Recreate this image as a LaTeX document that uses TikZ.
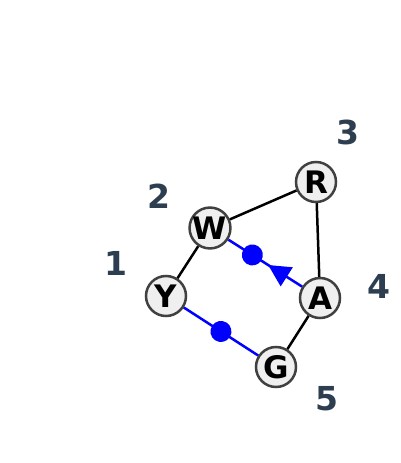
\documentclass[tikz,border=0pt]{standalone}
\usepackage{fontspec}
\setmainfont{DejaVu Sans}
\usetikzlibrary{arrows.meta,decorations.markings}
\definecolor{labelslate}{HTML}{2C3E50}
\definecolor{vertexfill}{HTML}{EFEFEF}
\definecolor{vertexline}{HTML}{404040}
\tikzset{
  vertex/.style={circle, draw=vertexline, fill=vertexfill, line width=2.5pt, minimum size=40pt, inner sep=0pt,
    font=\fontsize{31}{31}\selectfont\bfseries},
  number/.style={text=labelslate, inner sep=0pt, font=\fontsize{33}{33}\selectfont\bfseries},
  edge/.style={line width=2.5pt},
  blueedge/.style={edge, blue}
}

\begin{document}
\begin{tikzpicture}[x = 1pt, y = -1pt]
    \useasboundingbox (0,0) rectangle (400,463);
    \node[vertex] (W) at (210,228) {W};
    \node[vertex] (R) at (316,182) {R};
    \node[vertex] (Y) at (166,296) {Y};
    \node[vertex] (A) at (320,298) {A};
    \node[vertex] (G) at (276,367) {G};
    \node[number] (N1) at (116,263) {1};
    \node[number] (N2) at (159,196) {2};
    \node[number] (N3) at (348,132) {3};
    \node[number] (N4) at (379,286) {4};
    \node[number] (N5) at (327,399) {5};
    \draw[edge] (W) -- (R) (W) -- (Y) (R) -- (A) (A) -- (G);
    \draw[blueedge, postaction = decorate, decoration = {markings,
        mark = at position 0.46 with {\arrow[blue]{Triangle[length=22pt, width=22pt]}},
        mark = at position 0.675 with {\fill[blue] (0,0) circle (10.5pt);}}]
    (A) -- (W);
    \draw[blueedge, postaction = decorate, decoration = {markings,
        mark = at position 0.5 with {\fill[blue] (0,0) circle (10.5pt);}}]
    (Y) -- (G);
\end{tikzpicture}
\end{document}
